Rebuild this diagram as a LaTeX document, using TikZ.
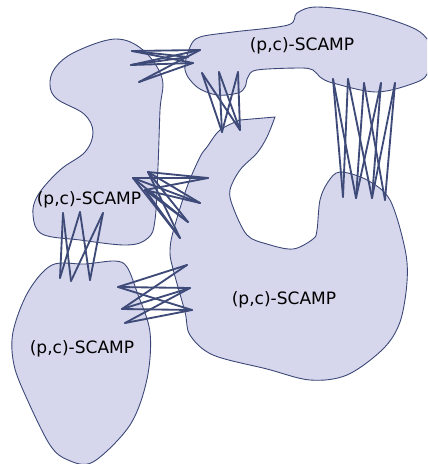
\documentclass[tikz,border=0pt]{standalone}
\usepackage{fontspec}
\setmainfont{DejaVu Sans}
\usepackage{tikz}
\usetikzlibrary{positioning}
\definecolor{blobfill}{RGB}{214,214,236}
\definecolor{blobline}{RGB}{58,70,118}
\definecolor{linkcol}{RGB}{62,74,120}
\tikzset{
  blob/.style={draw=blobline, fill=blobfill, line width=0.5pt},
  link/.style={draw=linkcol, line width=1.05pt, line cap=round},
  lbl/.style={font=\fontsize{9.7}{11.6}\selectfont, inner sep=0pt}
}

\begin{document}
\begin{tikzpicture}[x=0.02cm, y=-0.02cm]
  \useasboundingbox (0,0) rectangle (427,464);
  \clip (0,0) rectangle (427,464);

  % the four regions
  \draw[blob] plot[smooth cycle, tension=0.6] coordinates {(115,39) (143,50) (162,78) (160,110)
    (158,167) (155,220) (148,238) (127,245) (80,240) (42,234) (33,215) (38,195) (60,170)
    (85,152) (93,132) (84,114) (57,99) (50,85) (55,68) (75,52)};
  \draw[blob] plot[smooth cycle, tension=0.55] coordinates {(185,70) (190,47) (200,37) (233,32)
    (288,25) (297,13) (317,7) (367,13) (417,30) (432,50) (428,72) (417,82) (377,92) (333,83)
    (320,77) (313,70) (300,68) (257,70) (248,77) (245,87) (238,93) (217,95) (197,87)};
  \draw[blob] (240,120) -- (275,117) -- plot[smooth, tension=0.55] coordinates {(275,117)
    (267,137) (257,153) (240,170) (230,190) (233,207) (247,235) (267,244) (293,249) (313,239)
    (317,230) (320,200) (328,182) (340,172) (367,180) (390,200) (405,249) (407,282) (400,322)
    (383,349) (347,375) (310,380) (267,369) (213,355) (190,335) (185,312) (173,269) (170,252)
    (173,232) (187,187) (200,157) (207,147) (220,130) (240,120)} -- cycle;
  \draw[blob] plot[smooth cycle, tension=0.55] coordinates {(52,265) (85,264) (115,261)
    (127,267) (137,292) (150,332) (147,379) (130,425) (93,462) (68,460) (50,445) (27,399)
    (14,365) (13,332) (28,292)};

  \node[lbl] (scampB) at (302,46) {(p,c)-SCAMP};
  \node[lbl] (scampA) at (89,200) {(p,c)-SCAMP};
  \node[lbl] (scampC) at (284,300) {(p,c)-SCAMP};
  \node[lbl] (scampD) at (82,349) {(p,c)-SCAMP};

  % end points of the links
  \coordinate (ab1) at (132,51);  \coordinate (ab2) at (131,65);  \coordinate (ab3) at (139,82);
  \coordinate (ba1) at (200,50);  \coordinate (ba2) at (193,63);  \coordinate (ba3) at (188,57);
  \coordinate (bc1) at (202,73);  \coordinate (bc2) at (219,72);  \coordinate (bc3) at (238,72);
  \coordinate (cb1) at (222,132); \coordinate (cb2) at (240,130);
  \coordinate (bd1) at (333,79);  \coordinate (bd2) at (348,79);  \coordinate (bd3) at (364,83);
  \coordinate (bd4) at (381,83);  \coordinate (bd5) at (395,83);
  \coordinate (db1) at (343,197); \coordinate (db2) at (356,198); \coordinate (db3) at (372,198);
  \coordinate (db4) at (385,200);
  \coordinate (ac1) at (133,178); \coordinate (ac2) at (148,172); \coordinate (ac3) at (145,190);
  \coordinate (ca1) at (208,178); \coordinate (ca2) at (200,203); \coordinate (ca3) at (188,222);
  \coordinate (ca4) at (180,238);
  \coordinate (ad1) at (63,213);  \coordinate (ad2) at (80,212);  \coordinate (ad3) at (103,213);
  \coordinate (da1) at (60,278);  \coordinate (da2) at (71,281);  \coordinate (da3) at (90,280);
  \coordinate (dc1) at (118,287); \coordinate (dc2) at (122,309); \coordinate (dc3) at (125,323);
  \coordinate (cd1) at (187,265); \coordinate (cd2) at (190,288); \coordinate (cd3) at (192,310);

  \foreach \i/\j in {1/1,1/2,1/3,2/1,2/2,3/1,3/2,2/3} \draw[link] (ab\i) -- (ba\j);
  \foreach \i in {1,2,3} \foreach \j in {1,2} \draw[link] (bc\i) -- (cb\j);
  \foreach \i/\j in {1/1,1/2,2/1,2/3,3/2,3/4,4/2,4/3,5/3,5/4} \draw[link] (bd\i) -- (db\j);
  \foreach \i in {1,2,3} \foreach \j in {1,...,4} \draw[link] (ac\i) -- (ca\j);
  \foreach \i/\j in {1/1,1/2,2/1,2/3,3/2,3/3} \draw[link] (ad\i) -- (da\j);
  \foreach \i/\j in {1/1,1/2,1/3,2/1,2/2,2/3,3/2,3/3} \draw[link] (dc\i) -- (cd\j);
\end{tikzpicture}
\end{document}
